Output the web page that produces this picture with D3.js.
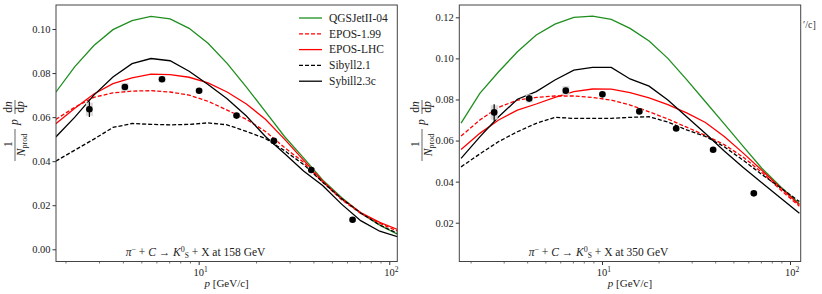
<!DOCTYPE html>
<html>
<head>
<meta charset="utf-8">
<script src="https://cdn.jsdelivr.net/npm/d3@7"></script>
<style>
  body { margin: 0; background: #fff; }
</style>
</head>
<body>
<div id="chart"></div>
<script>
// momentum grid where the model curves are given (GeV/c)
var pGrid = [1.78, 2.24, 2.82, 3.55, 4.47, 5.62, 7.08, 8.91, 11.2, 14.1, 17.8, 22.4, 28.2, 35.5, 44.7, 56.2, 70.8, 89.1, 112.2];

// 158 GeV models
var qgs158     = [0.0713, 0.0829, 0.0925, 0.0997, 0.1038, 0.1057, 0.1046, 0.1003, 0.0935, 0.0844, 0.0736, 0.0625, 0.0512, 0.0415, 0.0315, 0.0235, 0.0165, 0.0110, 0.0065];
var epos199158 = [0.0590, 0.0645, 0.0690, 0.0710, 0.0718, 0.0720, 0.0714, 0.0700, 0.0672, 0.0632, 0.0590, 0.0535, 0.0462, 0.0395, 0.0305, 0.0225, 0.0163, 0.0118, 0.0080];
var eposlhc158 = [0.0570, 0.0640, 0.0705, 0.0752, 0.0778, 0.0795, 0.0793, 0.0781, 0.0755, 0.0714, 0.0660, 0.0590, 0.0500, 0.0405, 0.0310, 0.0230, 0.0167, 0.0122, 0.0088];
var sib21158   = [0.0400, 0.0450, 0.0500, 0.0553, 0.0571, 0.0567, 0.0565, 0.0567, 0.0574, 0.0565, 0.0535, 0.0503, 0.0448, 0.0385, 0.0305, 0.0230, 0.0165, 0.0110, 0.0070];
var sib23158   = [0.0510, 0.0600, 0.0700, 0.0782, 0.0843, 0.0866, 0.0856, 0.0808, 0.0748, 0.0683, 0.0605, 0.0512, 0.0435, 0.0355, 0.0290, 0.0205, 0.0130, 0.0082, 0.0055];

// 350 GeV models
var qgs350     = [0.0685, 0.0830, 0.0935, 0.1032, 0.1114, 0.1167, 0.1200, 0.1206, 0.1190, 0.1146, 0.1085, 0.1000, 0.0897, 0.0789, 0.0681, 0.0573, 0.0465, 0.0375, 0.0292];
var epos199350 = [0.0622, 0.0700, 0.0762, 0.0797, 0.0810, 0.0817, 0.0817, 0.0810, 0.0797, 0.0773, 0.0740, 0.0705, 0.0665, 0.0625, 0.0580, 0.0520, 0.0445, 0.0360, 0.0280];
var eposlhc350 = [0.0557, 0.0635, 0.0700, 0.0748, 0.0778, 0.0810, 0.0838, 0.0851, 0.0850, 0.0833, 0.0808, 0.0775, 0.0735, 0.0688, 0.0620, 0.0540, 0.0455, 0.0370, 0.0287];
var sib21350   = [0.0472, 0.0535, 0.0595, 0.0643, 0.0684, 0.0713, 0.0708, 0.0708, 0.0708, 0.0713, 0.0716, 0.0690, 0.0652, 0.0620, 0.0570, 0.0505, 0.0435, 0.0370, 0.0303];
var sib23350   = [0.0513, 0.0618, 0.0716, 0.0801, 0.0838, 0.0895, 0.0943, 0.0956, 0.0956, 0.0900, 0.0865, 0.0797, 0.0716, 0.0634, 0.0549, 0.0470, 0.0395, 0.0320, 0.0246];

// measured points
var pData  = [2.67, 4.1, 6.42, 10.05, 15.8, 24.8, 39.0, 64.2];
var y158   = [0.0636, 0.0737, 0.0772, 0.0720, 0.0607, 0.0492, 0.0360, 0.0134];
var err158 = [0.0035, 0.0012, 0.0010, 0.0006, 0.0006, 0.0006, 0.0006, 0.0006];
var sys158 = [0.0030, 0.0018, 0.0014, 0.0010, 0.0010, 0.0010, 0.0010, 0.0010];
var y350   = [0.0737, 0.0805, 0.0843, 0.0825, 0.0742, 0.0659, 0.0555, 0.0343];
var err350 = [0.0040, 0.0016, 0.0010, 0.0008, 0.0007, 0.0007, 0.0007, 0.0008];
var sys350 = [0.0035, 0.0020, 0.0022, 0.0012, 0.0010, 0.0010, 0.0010, 0.0010];

var modelNames = ["QGSJetII-04", "EPOS-1.99", "EPOS-LHC", "Sibyll2.1", "Sybill2.3c"];
var modelColors = ["#1f8f1f", "#ff0000", "#ff0000", "#000000", "#000000"];
var modelDashed = [false, true, false, true, false];

var yTicks158 = [0.00, 0.02, 0.04, 0.06, 0.08, 0.10];
var yTicks350 = [0.02, 0.04, 0.06, 0.08, 0.10, 0.12];
var minorX = [2, 3, 4, 5, 6, 7, 8, 9, 20, 30, 40, 50, 60, 70, 80, 90];

var W = 822, H = 294;
var FONT = "Liberation Serif";
var svg = d3.select("#chart").append("svg").attr("width", W).attr("height", H);

function txt(sel) {
    return sel.append("text").attr("font-family", FONT).attr("fill", "#222");
}

function drawPanel(cfg) {
    var x = d3.scaleLog().domain(cfg.xDom).range([cfg.left, cfg.right]);
    var y = d3.scaleLinear().domain(cfg.yDom).range([cfg.bottom, cfg.top]);
    var g = svg.append("g");

    g.append("clipPath").attr("id", cfg.id + "clip")
        .append("rect")
        .attr("x", cfg.left).attr("y", cfg.top)
        .attr("width", cfg.right - cfg.left).attr("height", cfg.bottom - cfg.top);

    var plot = g.append("g").attr("clip-path", "url(#" + cfg.id + "clip)");

    var line = d3.line().x(d => x(d[0])).y(d => y(d[1]));
    cfg.models.forEach(function(vals, i) {
        plot.append("path")
            .datum(pGrid.map((p, j) => [p, vals[j]]))
            .attr("d", line)
            .attr("fill", "none")
            .attr("stroke", modelColors[i])
            .attr("stroke-width", 1.3)
            .attr("stroke-dasharray", modelDashed[i] ? "4,2" : null);
    });

    // data: sys boxes, stat bars, markers
    var pts = pData.map((p, i) => ({ p: p, v: cfg.vals[i], e: cfg.err[i], s: cfg.sys[i] }));
    plot.selectAll(".sys").data(pts).enter().append("rect")
        .attr("x", d => x(d.p) - 3.5)
        .attr("y", d => y(d.v + d.s))
        .attr("width", 7)
        .attr("height", d => y(d.v - d.s) - y(d.v + d.s))
        .attr("fill", "#d9d9d9");
    plot.selectAll(".err").data(pts).enter().append("line")
        .attr("x1", d => x(d.p)).attr("x2", d => x(d.p))
        .attr("y1", d => y(d.v - d.e)).attr("y2", d => y(d.v + d.e))
        .attr("stroke", "#000").attr("stroke-width", 1.2);
    plot.selectAll(".pt").data(pts).enter().append("circle")
        .attr("cx", d => x(d.p)).attr("cy", d => y(d.v))
        .attr("r", 3.3).attr("fill", "#000");

    // axes
    var yAxis = d3.axisLeft(y).tickValues(cfg.yTicks).tickFormat(d3.format(".2f")).tickSize(3.5).tickPadding(2);
    var ya = g.append("g").attr("transform", "translate(" + cfg.left + ",0)").call(yAxis);
    ya.attr("font-family", FONT).attr("font-size", 10.5);
    ya.select(".domain").remove();
    ya.selectAll("text").attr("fill", "#222");
    ya.selectAll("line").attr("stroke", "#333");

    var xa = g.append("g").attr("transform", "translate(0," + cfg.bottom + ")");
    xa.call(d3.axisBottom(x).tickValues([10, 100]).tickFormat("").tickSize(3.5));
    xa.select(".domain").remove();
    xa.selectAll("line").attr("stroke", "#333");
    var xm = g.append("g").attr("transform", "translate(0," + cfg.bottom + ")");
    xm.call(d3.axisBottom(x).tickValues(minorX.filter(v => v > cfg.xDom[0] && v < cfg.xDom[1])).tickFormat("").tickSize(2));
    xm.select(".domain").remove();
    xm.selectAll("line").attr("stroke", "#333").attr("stroke-width", 0.7);

    [[10, "1"], [100, "2"]].forEach(function(t) {
        var tx = txt(g)
            .attr("x", x(t[0]) + 2).attr("y", cfg.bottom + 14)
            .attr("text-anchor", "middle")
            .attr("font-size", 10.5);
        tx.append("tspan").text("10");
        tx.append("tspan").attr("dy", -4).attr("font-size", 7.5).text(t[1]);
    });

    // frame
    g.append("rect")
        .attr("x", cfg.left).attr("y", cfg.top)
        .attr("width", cfg.right - cfg.left).attr("height", cfg.bottom - cfg.top)
        .attr("fill", "none").attr("stroke", "#444").attr("stroke-width", 1);

    // x label
    var xl = txt(g)
        .attr("x", (cfg.left + cfg.right) / 2).attr("y", cfg.bottom + 25)
        .attr("text-anchor", "middle").attr("font-size", 11);
    xl.append("tspan").attr("font-style", "italic").text("p");
    xl.append("tspan").text(" [GeV/c]");

    // reaction label
    var rl = txt(g)
        .attr("x", cfg.annX).attr("y", cfg.bottom - 6)
        .attr("text-anchor", "middle").attr("font-size", 11.5);
    rl.append("tspan").attr("font-style", "italic").text("π");
    rl.append("tspan").attr("dy", -4).attr("font-size", 8).text("−");
    rl.append("tspan").attr("dy", 4).text(" + ");
    rl.append("tspan").attr("font-style", "italic").text("C");
    rl.append("tspan").text(" → ");
    rl.append("tspan").attr("font-style", "italic").text("K");
    rl.append("tspan").attr("dy", -4).attr("font-size", 8).text("0");
    rl.append("tspan").attr("dy", 6.5).attr("font-size", 7.5).text("S");
    rl.append("tspan").attr("dy", -2.5).text(" + X at " + cfg.energy + " GeV");

    // y label (1/N_prod p dn/dp), rotated
    var yl = g.append("g").attr("transform", "translate(" + cfg.labX + ",129) rotate(-90)");
    txt(yl).attr("font-size", 11.5).attr("x", -15).attr("y", -3).attr("text-anchor", "middle").text("1");
    yl.append("line").attr("x1", -32).attr("x2", 0).attr("y1", 0).attr("y2", 0).attr("stroke", "#222").attr("stroke-width", 0.7);
    var den = txt(yl).attr("font-size", 11.5).attr("x", -16).attr("y", 10).attr("text-anchor", "middle");
    den.append("tspan").attr("font-style", "italic").text("N");
    den.append("tspan").attr("dy", 2).attr("font-size", 8).text("prod");
    txt(yl).attr("font-size", 11.5).attr("x", 7).attr("y", 3).attr("text-anchor", "middle").attr("font-style", "italic").text("p");
    var num2 = txt(yl).attr("font-size", 11.5).attr("x", 22).attr("y", -3).attr("text-anchor", "middle");
    num2.append("tspan").text("d");
    num2.append("tspan").attr("font-style", "italic").text("n");
    yl.append("line").attr("x1", 15).attr("x2", 29).attr("y1", 0).attr("y2", 0).attr("stroke", "#222").attr("stroke-width", 0.7);
    var den2 = txt(yl).attr("font-size", 11.5).attr("x", 22).attr("y", 9).attr("text-anchor", "middle");
    den2.append("tspan").text("d");
    den2.append("tspan").attr("font-style", "italic").text("p");
}

drawPanel({
    id: "p158", left: 56, right: 397.3, top: 5, bottom: 261.5,
    xDom: [1.784, 110.2], yDom: [-0.00554, 0.1109],
    yTicks: yTicks158, energy: "158", annX: 195.5, labX: 15,
    models: [qgs158, epos199158, eposlhc158, sib21158, sib23158],
    vals: y158, err: err158, sys: sys158
});

drawPanel({
    id: "p350", left: 459.3, right: 800.7, top: 5, bottom: 261.5,
    xDom: [1.742, 114], yDom: [0.00111, 0.126],
    yTicks: yTicks350, energy: "350", annX: 598.5, labX: 422,
    models: [qgs350, epos199350, eposlhc350, sib21350, sib23350],
    vals: y350, err: err350, sys: sys350
});

// legend (left panel)
var leg = svg.append("g");
modelNames.forEach(function(name, i) {
    var ly = 18 + i * 15.8;
    leg.append("line")
        .attr("x1", 299).attr("x2", 322).attr("y1", ly).attr("y2", ly)
        .attr("stroke", modelColors[i]).attr("stroke-width", 1.3)
        .attr("stroke-dasharray", modelDashed[i] ? "4,2" : null);
    txt(leg)
        .attr("x", 329).attr("y", ly + 3.8)
        .attr("font-size", 11.5)
        .text(name);
});

// cut-off label from a neighbouring panel at the right edge
txt(svg).attr("x", 803).attr("y", 28)
    .attr("font-size", 10).attr("fill", "#333").text("′/c]");
</script>
</body>
</html>
